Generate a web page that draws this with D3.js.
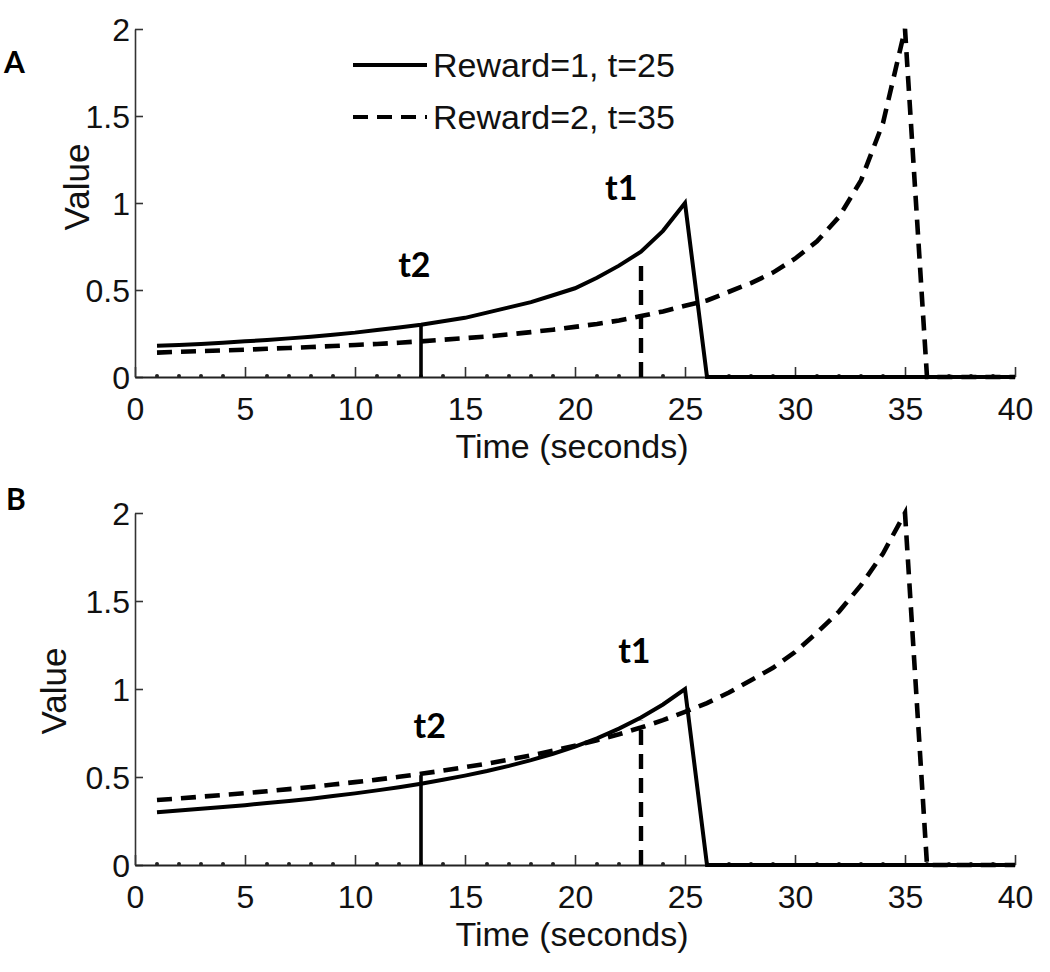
<!DOCTYPE html>
<html>
<head>
<meta charset="utf-8">
<script src="https://cdn.jsdelivr.net/npm/d3@7"></script>
<style>
  html, body { margin: 0; padding: 0; background: #fff; }
  svg { display: block; }
  .tick text { font-family: "Liberation Sans", Arial, sans-serif; }
</style>
</head>
<body>
<svg id="chart" width="1050" height="972"></svg>
<script>
// ---------- DATA ----------
const time = [1,2,3,4,5,6,7,8,9,10,11,12,13,14,15,16,17,18,19,20,
              21,22,23,24,25,26,27,28,29,30,31,32,33,34,35,36,37,38,39,40];

// Panel A
const solidA = [0.18,0.184,0.19,0.197,0.205,0.213,0.222,0.232,0.243,0.255,0.27,0.285,0.30,0.32,0.34,0.37,0.40,0.43,0.47,0.51,
                0.57,0.64,0.72,0.84,1.0,0,0,0,0,0,0,0,0,0,0,0,0,0,0,0];
const dashedA = [0.14,0.145,0.149,0.153,0.157,0.162,0.167,0.172,0.178,0.184,0.19,0.197,0.205,0.214,0.223,0.233,0.245,0.258,0.272,0.288,
                 0.305,0.325,0.35,0.377,0.41,0.44,0.49,0.54,0.60,0.68,0.78,0.92,1.13,1.46,2.0,0,0,0,0,0];
// Panel B
const solidB = [0.30,0.309,0.319,0.329,0.34,0.352,0.364,0.377,0.392,0.407,0.424,0.442,0.462,0.484,0.508,0.534,0.563,0.596,0.632,0.673,
                0.72,0.775,0.838,0.912,1.0,0,0,0,0,0,0,0,0,0,0,0,0,0,0,0];
const dashedB = [0.369,0.378,0.388,0.398,0.408,0.419,0.431,0.443,0.457,0.471,0.485,0.501,0.518,0.536,0.556,0.576,0.599,0.623,0.649,0.678,
                 0.709,0.743,0.781,0.823,0.87,0.92,0.98,1.05,1.12,1.21,1.32,1.44,1.59,1.77,2.0,0,0,0,0,0];

// Decision markers (t2 solid, t1 dashed)
const markerTimes = [13, 23];
const markerTopA = [0.30, 0.69];
const markerTopB = [0.51, 0.82];
const markerNames = ["t2", "t1"];
// label anchor (data coordinates)
const labelTimeA = [12.7, 22.1];
const labelValA = [0.575, 1.02];
const labelTimeB = [13.4, 22.7];
const labelValB = [0.72, 1.15];

const xTicks = [0,5,10,15,20,25,30,35,40];
const minorTicks = [1,2,3,4,6,7,8,9,11,12,13,14,16,17,18,19,21,22,23,24,26,27,28,29,31,32,33,34,36,37,38,39];
const yTicks = [0,0.5,1,1.5,2];
const legendLabels = ["Reward=1, t=25", "Reward=2, t=35"];
const panelLetters = ["A", "B"];

// ---------- DRAW ----------
const svg = d3.select("#chart");
const FONT = "'Liberation Sans', Arial, Helvetica, sans-serif";
const BOLD = "Lato, 'Open Sans', sans-serif";
const DASH = "15,9";

const panels = [
  { letter: panelLetters[0], solid: solidA, dashed: dashedA, mTop: markerTopA, lt: labelTimeA, lv: labelValA,
    y0: 377, y2: 29, letterPos: [4, 73], valueX: 89, valueY: 187, titleY: 458, legend: true },
  { letter: panelLetters[1], solid: solidB, dashed: dashedB, mTop: markerTopB, lt: labelTimeB, lv: labelValB,
    y0: 865, y2: 513, letterPos: [6, 510], valueX: 66, valueY: 691, titleY: 946, legend: false }
];

panels.forEach(p => {
  const x = d3.scaleLinear().domain([0, 40]).range([135, 1015]);
  const y = d3.scaleLinear().domain([0, 2]).range([p.y0, p.y2]);
  const g = svg.append("g");

  // y axis
  const yAxis = g.append("g").attr("transform", `translate(${x(0)},0)`)
    .call(d3.axisLeft(y).tickValues(yTicks).tickSizeInner(-8).tickSizeOuter(0).tickPadding(5).tickFormat(d3.format("")));
  yAxis.select(".domain").attr("stroke", "#333").attr("stroke-width", 1.6);
  yAxis.selectAll(".tick line").attr("stroke", "#333").attr("stroke-width", 1.6);
  yAxis.selectAll(".tick text").attr("font-size", 32).attr("fill", "#111").attr("dy", "0.36em");

  // x axis
  const xAxis = g.append("g").attr("transform", `translate(0,${y(0)})`)
    .call(d3.axisBottom(x).tickValues(xTicks).tickSizeInner(-10).tickSizeOuter(0).tickPadding(20).tickFormat(d3.format("")));
  xAxis.select(".domain").attr("stroke", "#222").attr("stroke-width", 2);
  xAxis.selectAll(".tick line").attr("stroke", "#333").attr("stroke-width", 1.6);
  xAxis.selectAll(".tick text").attr("font-size", 32).attr("fill", "#111");

  // minor tick dots
  g.append("g").selectAll("circle").data(minorTicks).join("circle")
    .attr("cx", d => x(d)).attr("cy", y(0) - 1).attr("r", 2).attr("fill", "#222");

  // axis titles
  g.append("text").attr("x", 572).attr("y", p.titleY).attr("text-anchor", "middle")
    .attr("font-family", FONT).attr("font-size", 34).attr("fill", "#111").text("Time (seconds)");
  g.append("text").attr("transform", `translate(${p.valueX},${p.valueY}) rotate(-90)`).attr("text-anchor", "middle")
    .attr("font-family", FONT).attr("font-size", 35).attr("fill", "#111").text("Value");

  // panel letter
  g.append("text").attr("x", p.letterPos[0]).attr("y", p.letterPos[1])
    .attr("font-family", BOLD).attr("font-weight", "bold").attr("font-size", 30).attr("fill", "#000").text(p.letter);

  const line = d3.line().x((d, i) => x(time[i])).y(d => y(d));

  // dashed series
  g.append("path").datum(p.dashed).attr("d", line).attr("fill", "none")
    .attr("stroke", "#000").attr("stroke-width", 4.6).attr("stroke-dasharray", DASH);
  // solid series
  g.append("path").datum(p.solid).attr("d", line).attr("fill", "none")
    .attr("stroke", "#000").attr("stroke-width", 4).attr("stroke-linejoin", "miter");

  // marker vertical lines
  markerTimes.forEach((t, i) => {
    g.append("line").attr("x1", x(t)).attr("x2", x(t)).attr("y1", y(0)).attr("y2", y(p.mTop[i]))
      .attr("stroke", "#000").attr("stroke-width", i === 0 ? 3.6 : 4.4)
      .attr("stroke-dasharray", i === 0 ? null : DASH);
    g.append("text").attr("x", x(p.lt[i])).attr("y", y(p.lv[i])).attr("text-anchor", "middle")
      .attr("font-family", BOLD).attr("font-weight", "bold").attr("font-size", 34).attr("fill", "#000")
      .text(markerNames[i]);
  });

  // legend
  if (p.legend) {
    const leg = g.append("g");
    const rows = [{ dash: null, y: 65 }, { dash: DASH, y: 117 }];
    rows.forEach((r, i) => {
      leg.append("line").attr("x1", 353).attr("x2", 427).attr("y1", r.y).attr("y2", r.y)
        .attr("stroke", "#000").attr("stroke-width", 4.2).attr("stroke-dasharray", r.dash);
      leg.append("text").attr("x", 433).attr("y", r.y).attr("dy", "0.36em")
        .attr("font-family", FONT).attr("font-size", 34).attr("fill", "#111").text(legendLabels[i]);
    });
  }
});
</script>
</body>
</html>
